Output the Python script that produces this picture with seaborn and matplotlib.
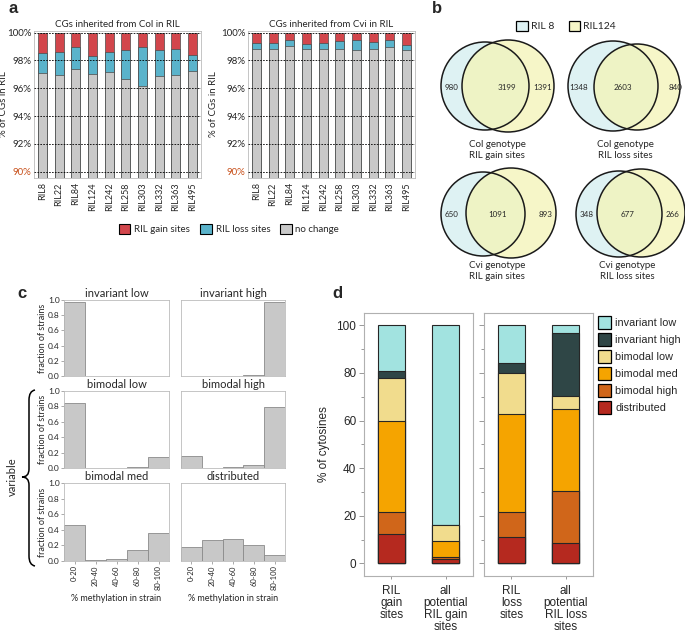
import numpy as np
import matplotlib
matplotlib.use('Agg')
import matplotlib.pyplot as plt
from matplotlib.patches import Ellipse, Patch, PathPatch
from matplotlib.path import Path
import seaborn as sns

# ---- panel a data: % of CGs (no change / loss / gain) per RIL
strains = ['RIL8', 'RIL22', 'RIL84', 'RIL124', 'RIL242', 'RIL258', 'RIL303', 'RIL332', 'RIL363', 'RIL495']
col_nochange = [97.12, 96.93, 97.36, 97.05, 97.19, 96.69, 96.19, 96.86, 96.98, 97.21]
col_loss = [1.43, 1.69, 1.62, 1.28, 1.43, 2.07, 2.79, 1.90, 1.85, 1.22]
col_gain = [1.45, 1.38, 1.02, 1.67, 1.38, 1.24, 1.02, 1.24, 1.17, 1.57]
cvi_nochange = [98.79, 98.79, 99.05, 98.83, 98.79, 98.86, 98.74, 98.86, 98.98, 98.74]
cvi_loss = [0.47, 0.50, 0.43, 0.38, 0.47, 0.52, 0.76, 0.50, 0.50, 0.40]
cvi_gain = [0.74, 0.71, 0.52, 0.79, 0.74, 0.62, 0.50, 0.64, 0.52, 0.86]
a_ticks = [90, 92, 94, 96, 98, 100]

# ---- panel b data: venn counts (RIL 8 only, shared, RIL124 only)
venn_titles = ['Col genotype\nRIL gain sites', 'Col genotype\nRIL loss sites',
               'Cvi genotype\nRIL gain sites', 'Cvi genotype\nRIL loss sites']
venn_counts = [[980, 3199, 1391], [1348, 2603, 840], [650, 1091, 893], [348, 677, 266]]

# ---- panel c data: fraction of strains per methylation bin
bins = ['0-20', '20-40', '40-60', '60-80', '80-100']
hist_titles = ['invariant low', 'invariant high', 'bimodal low', 'bimodal high', 'bimodal med', 'distributed']
inv_low = [0.98, 0.005, 0.004, 0.005, 0.003]
inv_high = [0.005, 0.0, 0.003, 0.01, 0.98]
bim_low = [0.84, 0.003, 0.003, 0.01, 0.14]
bim_high = [0.16, 0.005, 0.01, 0.035, 0.79]
bim_med = [0.46, 0.01, 0.025, 0.14, 0.36]
distrib = [0.18, 0.27, 0.28, 0.205, 0.08]

# ---- panel d data: % of cytosines in each class
classes = ['invariant low', 'invariant high', 'bimodal low', 'bimodal med', 'bimodal high', 'distributed']
gain_cats = ['RIL\ngain\nsites', 'all\npotential\nRIL gain\nsites']
loss_cats = ['RIL\nloss\nsites', 'all\npotential\nRIL loss\nsites']
gain_vals = {'invariant low': [19.1, 83.9], 'invariant high': [3.1, 0.0], 'bimodal low': [17.9, 6.7],
             'bimodal med': [38.5, 6.9], 'bimodal high': [9.2, 0.8], 'distributed': [12.2, 1.7]}
loss_vals = {'invariant low': [15.6, 3.2], 'invariant high': [4.4, 26.3], 'bimodal low': [17.2, 5.8],
             'bimodal med': [41.4, 34.3], 'bimodal high': [10.2, 22.0], 'distributed': [11.2, 8.4]}
class_colors = ['#a2e3e0', '#2f4646', '#f1dc8d', '#f5a400', '#d0661a', '#b5291f']

sns.set_style('white')
plt.rcParams['font.family'] = ['Lato', 'DejaVu Sans']

W, H = 685, 633
fig = plt.figure(figsize=(W / 100, H / 100), dpi=100)


def ax_px(l, t, r, b):
    return fig.add_axes([l / W, 1 - b / H, (r - l) / W, (b - t) / H])


# overlay for labels, brace and venns
ov = fig.add_axes([0, 0, 1, 1])
ov.set_xlim(0, W)
ov.set_ylim(H, 0)
ov.axis('off')
for lab, x, y in [('a', 9, 13), ('b', 432, 13), ('c', 17, 298), ('d', 332, 298)]:
    ov.text(x, y, lab, fontsize=12, fontweight='bold', family='Liberation Sans')


# ---- panel a
def ril_panel(ax, nochange, loss, gain, title, label_x):
    stack = np.array([nochange, loss, gain])
    cum = np.cumsum(stack, axis=0)
    for vals, c in zip(cum[::-1], ['#d2464c', '#5ab3cb', '#c9c9c9']):
        sns.barplot(x=strains, y=vals, color=c, saturation=1, width=0.54,
                    edgecolor='#4a4a4a', linewidth=0.5, errorbar=None, ax=ax)
    ax.set_ylim(89.55, 100.12)
    ax.set_yticks(a_ticks)
    ax.set_yticklabels([f'{t}%' for t in a_ticks], fontsize=7)
    ax.get_yticklabels()[0].set_color('#c8501a')
    ax.yaxis.grid(True, linestyle=(0, (2, 1.5)), color='k', linewidth=0.6)
    ax.set_axisbelow(False)
    ax.tick_params(axis='x', rotation=90, labelsize=6.5, length=2, pad=1)
    ax.tick_params(axis='y', length=0, pad=2)
    ax.set_ylabel('% of CGs in RIL', fontsize=7)
    ax.yaxis.set_label_coords(label_x, 0.5)
    ax.set_title(title, fontsize=7, pad=3)
    for s in ax.spines.values():
        s.set_color('#bbbbbb')
        s.set_linewidth(0.6)


ax_col = ax_px(34, 31, 201, 178)
ril_panel(ax_col, col_nochange, col_loss, col_gain, 'CGs inherited from Col in RIL', (8 - 34) / 167)
ax_cvi = ax_px(248, 31, 415, 178)
ril_panel(ax_cvi, cvi_nochange, cvi_loss, cvi_gain, 'CGs inherited from Cvi in RIL', (218 - 248) / 167)

a_handles = [Patch(facecolor=c, edgecolor='k', linewidth=0.8) for c in ['#d2464c', '#5ab3cb', '#c9c9c9']]
fig.legend(a_handles, ['RIL gain sites', 'RIL loss sites', 'no change'], ncol=3, frameon=False,
           fontsize=7, loc='center', bbox_to_anchor=(229 / W, 1 - 229 / H),
           handlelength=1.2, handleheight=1.2, columnspacing=1.0, handletextpad=0.4)

# ---- panel b venns (pixel coordinates on overlay)
venn_geom = [((485, 86, 44), (508, 86, 46)), ((613, 86, 45), (637, 87, 43)),
             ((483, 214, 42), (511, 213, 45)), ((619, 214, 43), (641, 213, 44))]
num_x = [(452, 507, 543), (579, 623, 676), (452, 498, 546), (587, 628, 673)]
cap_pos = [(497, 150), (625, 150), (497, 271), (627, 271)]
for (lc, rc), counts, xs, title, cp in zip(venn_geom, venn_counts, num_x, venn_titles, cap_pos):
    ov.add_patch(Ellipse((lc[0], lc[1]), 2 * lc[2], 2 * lc[2], facecolor='#def2f3', edgecolor='none'))
    ov.add_patch(Ellipse((rc[0], rc[1]), 2 * rc[2], 2 * rc[2], facecolor='#f4f4b6', alpha=0.75, edgecolor='none'))
    ov.add_patch(Ellipse((lc[0], lc[1]), 2 * lc[2], 2 * lc[2], facecolor='none', edgecolor='#1a1a1a', lw=1.1))
    ov.add_patch(Ellipse((rc[0], rc[1]), 2 * rc[2], 2 * rc[2], facecolor='none', edgecolor='#1a1a1a', lw=1.1))
    yc = (lc[1] + rc[1]) / 2
    for x, n in zip(xs, counts):
        ov.text(x, yc + 1, str(n), fontsize=5.8, ha='center', va='center')
    ov.text(cp[0], cp[1], title, fontsize=7, ha='center', va='center', linespacing=1.25)

b_handles = [Patch(facecolor='#def2f3', edgecolor='k', linewidth=0.9),
             Patch(facecolor='#f6f6c8', edgecolor='k', linewidth=0.9)]
fig.legend(b_handles, ['RIL 8', 'RIL124'], ncol=2, frameon=False, fontsize=7.5,
           loc='center', bbox_to_anchor=(566 / W, 1 - 26 / H),
           handlelength=1.1, handleheight=1.1, columnspacing=1.4, handletextpad=0.3)

# ---- panel c histograms
hist_vals = [inv_low, inv_high, bim_low, bim_high, bim_med, distrib]
cols = [(64, 169), (181, 285)]
rows = [(300, 376), (391, 468), (483, 561)]
for i, (vals, title) in enumerate(zip(hist_vals, hist_titles)):
    r, c = divmod(i, 2)
    ax = ax_px(cols[c][0], rows[r][0], cols[c][1], rows[r][1])
    sns.barplot(x=bins, y=vals, color='#c8c8c8', saturation=1, width=1.0,
                edgecolor='#8a8a8a', linewidth=0.6, errorbar=None, ax=ax)
    ax.set_xlim(-0.5, 4.5)
    ax.set_ylim(0, 1.0)
    ax.set_title(title, fontsize=8, pad=2)
    ax.set_yticks([0, 0.2, 0.4, 0.6, 0.8, 1.0])
    ax.tick_params(axis='both', length=2, width=0.5, color='#888888', labelsize=6, pad=1)
    if c == 0:
        ax.set_yticklabels(['0.0', '0.2', '0.4', '0.6', '0.8', '1.0'])
        ax.tick_params(axis='y', left=True)
        ax.set_ylabel('fraction of strains', fontsize=6.5)
        ax.yaxis.set_label_coords((47 - 64) / 105, 0.5)
    else:
        ax.set_yticklabels([])
        ax.set_ylabel('')
    if r == 2:
        ax.tick_params(axis='x', rotation=90, labelsize=5.5, bottom=True)
        ax.set_xlabel('% methylation in strain', fontsize=6.5, labelpad=3)
    else:
        ax.set_xticklabels([])
        ax.set_xlabel('')
    for s in ax.spines.values():
        s.set_color('#bbbbbb')
        s.set_linewidth(0.6)

# brace marking the "variable" group
brace = Path([(35, 390), (29, 391), (29, 400), (29, 469), (29, 477), (22, 477), (29, 477), (29, 485),
              (29, 556), (29, 565), (35, 566)],
             [Path.MOVETO, Path.CURVE3, Path.CURVE3, Path.LINETO, Path.CURVE3, Path.CURVE3,
              Path.CURVE3, Path.CURVE3, Path.LINETO, Path.CURVE3, Path.CURVE3])
ov.add_patch(PathPatch(brace, facecolor='none', edgecolor='k', lw=1.1))
ov.text(12, 477, 'variable', rotation=90, fontsize=8, ha='center', va='center')


# ---- panel d stacked bars
def stacked_panel(ax, cats, vals):
    stack = np.array([vals[k] for k in classes[::-1]])
    cum = np.cumsum(stack, axis=0)
    for level, c in zip(cum[::-1], class_colors):
        sns.barplot(x=cats, y=level, color=c, saturation=1, width=0.5,
                    edgecolor='#262626', linewidth=0.8, errorbar=None, ax=ax)
    ax.set_ylim(-5.3, 105.2)
    ax.set_yticks([0, 20, 40, 60, 80, 100])
    ax.set_yticks([10, 30, 50, 70, 90], minor=True)
    ax.tick_params(axis='y', which='major', left=True, length=3.5, width=0.6, color='#888888',
                   labelsize=8.5, pad=2)
    ax.tick_params(axis='y', which='minor', left=True, length=2.5, width=0.6, color='#888888')
    ax.tick_params(axis='x', bottom=True, length=2.5, width=0.6, color='#888888', labelsize=8.5, pad=4)
    for t in ax.get_xticklabels():
        t.set_verticalalignment('top')
        t.set_linespacing(1.0)
    for s in ax.spines.values():
        s.set_color('#b0b0b0')
        s.set_linewidth(0.8)


ax_dg = ax_px(364, 313, 473, 576)
stacked_panel(ax_dg, gain_cats, gain_vals)
ax_dg.set_ylabel('% of cytosines', fontsize=8.5, family='Liberation Sans')
ax_dg.yaxis.set_label_coords((330 - 364) / 109, 0.5)
ax_dl = ax_px(484, 313, 593, 576)
stacked_panel(ax_dl, loss_cats, loss_vals)
ax_dl.set_yticklabels([])
for a in (ax_dg, ax_dl):
    for t in a.get_xticklabels() + a.get_yticklabels():
        t.set_family('Liberation Sans')

d_handles = [Patch(facecolor=c, edgecolor='k', linewidth=0.9) for c in class_colors]
fig.legend(d_handles, classes, frameon=False, loc='upper left',
           bbox_to_anchor=(595 / W, 1 - 313 / H), handlelength=1.15, handleheight=1.45,
           labelspacing=0.38, handletextpad=0.4, borderaxespad=0, borderpad=0.3,
           prop={'family': 'Liberation Sans', 'size': 7.8})

fig.savefig('out.png', dpi=100)
